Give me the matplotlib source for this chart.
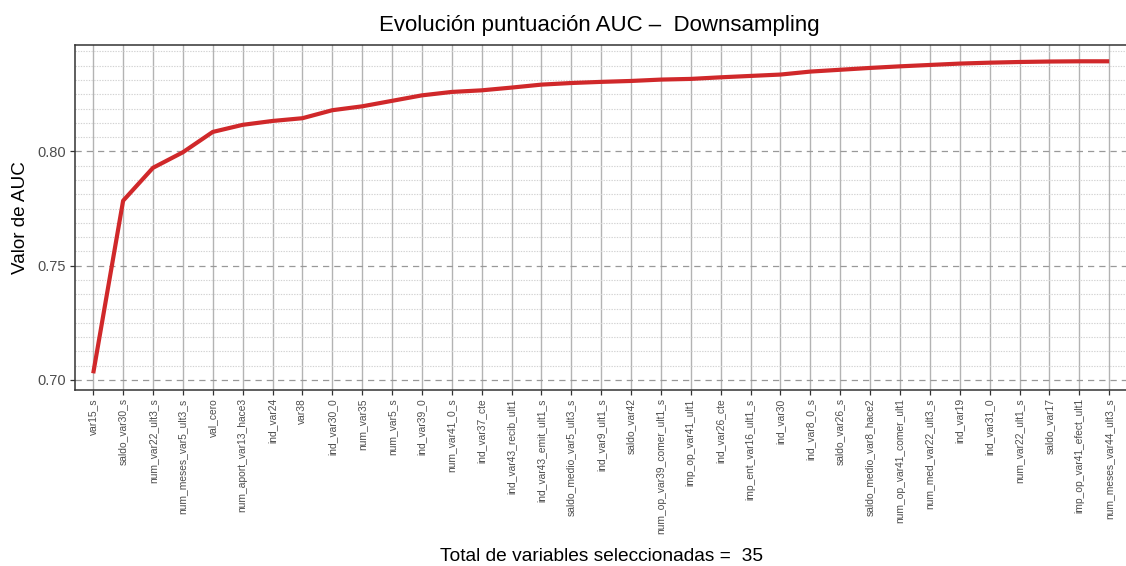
import matplotlib
matplotlib.use("Agg")
import matplotlib.pyplot as plt
from matplotlib.ticker import MultipleLocator, FixedLocator

plt.rcParams['font.family'] = ['Liberation Sans', 'DejaVu Sans']

variables = [
    "var15_s", "saldo_var30_s", "num_var22_ult3_s", "num_meses_var5_ult3_s",
    "val_cero", "num_aport_var13_hace3", "ind_var24", "var38", "ind_var30_0",
    "num_var35", "num_var5_s", "ind_var39_0", "num_var41_0_s", "ind_var37_cte",
    "ind_var43_recib_ult1", "ind_var43_emit_ult1_s", "saldo_medio_var5_ult3_s",
    "ind_var9_ult1_s", "saldo_var42", "num_op_var39_comer_ult1_s",
    "imp_op_var41_ult1", "ind_var26_cte", "imp_ent_var16_ult1_s", "ind_var30",
    "ind_var8_0_s", "saldo_var26_s", "saldo_medio_var8_hace2",
    "num_op_var41_comer_ult1", "num_med_var22_ult3_s", "ind_var19",
    "ind_var31_0", "num_var22_ult1_s", "saldo_var17", "imp_op_var41_efect_ult1",
    "num_meses_var44_ult3_s",
]
auc = [
    0.7029, 0.7784, 0.7928, 0.7996, 0.8085, 0.8116, 0.8133, 0.8145, 0.8180,
    0.8197, 0.8221, 0.8245, 0.8260, 0.8267, 0.8279, 0.8292, 0.8299, 0.8304,
    0.8308, 0.8314, 0.8317, 0.8324, 0.8330, 0.8336, 0.8349, 0.8357, 0.8365,
    0.8372, 0.8378, 0.8384, 0.8388, 0.8391, 0.8393, 0.8394, 0.8394,
]

W, H = 1126, 566
fig = plt.figure(figsize=(W / 100, H / 100), dpi=100)
left, right, top, bottom = 75.3, 1127.1, 45.3, 390.0
ax = fig.add_axes([left / W, (H - bottom) / H, (right - left) / W, (bottom - top) / H])

x = list(range(len(variables)))
ax.set_xlim(-0.6, len(variables) - 1 + 0.6)
ax.set_ylim(0.6956, 0.8464)

# grid
ax.yaxis.set_major_locator(FixedLocator([0.70, 0.75, 0.80]))
ax.yaxis.set_minor_locator(MultipleLocator(0.00625))
ax.set_xticks(x)
ax.grid(True, which='major', axis='x', color='#B3B3B3', lw=1.0, ls='-')
ax.grid(True, which='major', axis='y', color='#999999', lw=0.9, ls=(0, (5, 4)))
ax.grid(True, which='minor', axis='y', color='#D2D2D2', lw=0.8, ls=(0, (1.2, 1.2)))
ax.set_axisbelow(True)

ax.plot(x, auc, color='#D0282A', lw=3.0, solid_capstyle='butt', zorder=3)

ax.set_xticklabels(variables, rotation=90, fontsize=7.4, color='#4D4D4D', va='top')
ax.set_yticklabels(['0.70', '0.75', '0.80'])
ax.tick_params(axis='y', which='major', labelsize=10.5, labelcolor='#4D4D4D', length=3.5, color='#333333', width=0.9, pad=3.5)
ax.tick_params(axis='y', which='minor', length=0)
ax.tick_params(axis='x', length=3.5, color='#333333', width=0.9, pad=2.5)

for s in ax.spines.values():
    s.set_color('#333333')
    s.set_linewidth(1.1)

ax.set_ylabel('Valor de AUC', fontsize=13.6, labelpad=6)
fig.text(599 / W, 1 - 30.5 / H, 'Evolución puntuación AUC –  Downsampling', fontsize=16, ha='center', va='baseline')
fig.text(601 / W, 1 - 561 / H, 'Total de variables seleccionadas =  35', fontsize=13.8, ha='center', va='baseline')

fig.savefig('out.png', dpi=100)
